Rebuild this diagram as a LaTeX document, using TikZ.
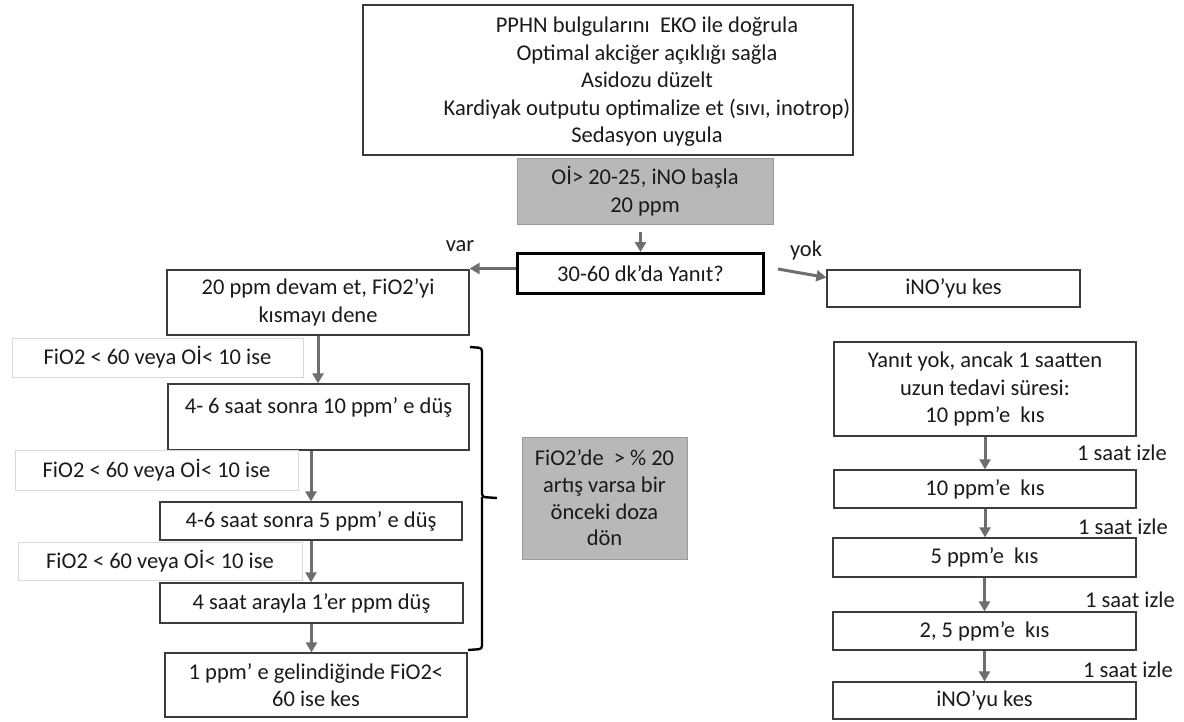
\documentclass[tikz,border=0pt]{standalone}
\usepackage{fontspec}
\setmainfont{Carlito}
\usetikzlibrary{arrows.meta,calc}
\definecolor{boxline}{HTML}{3C3C3C}
\definecolor{arrowgray}{HTML}{6E6E6E}
\definecolor{lblline}{HTML}{DADADA}
\definecolor{fillgray}{HTML}{B8B8B8}
\definecolor{fillgrayline}{HTML}{9A9A9A}
\definecolor{txt}{HTML}{1A1A1A}
\tikzset{
  every node/.style={font=\fontsize{22.5}{27.5}\selectfont, text=txt, inner sep=0pt, align=center},
  box/.style={draw=boxline, line width=1.3pt, fill=white},
  condbox/.style={draw=lblline, line width=0.9pt, fill=white},
  greybox/.style={draw=fillgrayline, line width=1pt, fill=fillgray},
  decision/.style={draw=black, line width=3pt, fill=white},
  arr/.style={draw=arrowgray, line width=3pt, -{Triangle[length=10pt,width=11pt]}},
  brace/.style={draw=black, line width=2.4pt, rounded corners=3pt},
}
\begin{document}
\begin{tikzpicture}[x=1pt,y=-1pt]
\useasboundingbox (0,0) rectangle (1184,721);

% top block of preliminary steps
\node[box, minimum width=490, minimum height=150] (top) at (608,80) {};
\node (toptext) at (647,82) {PPHN bulgularını\ \ EKO ile doğrula\\Optimal akciğer açıklığı sağla\\Asidozu düzelt\\Kardiyak outputu optimalize et (sıvı, inotrop)\\Sedasyon uygula};

% start of iNO
\node[greybox, minimum width=256, minimum height=66] (start) at (645,191) {Oİ> 20-25, iNO başla\\20 ppm};

% decision
\node[decision, minimum width=246, minimum height=40] (dec) at (640.5,273.5) {30-60 dk’da Yanıt?};
\node (var) at (460,246) {var};
\node (yok) at (806,250) {yok};

% left column: response present
\node[box, minimum width=302, minimum height=65] (L1) at (318,302.5) {20 ppm devam et, FiO2’yi\\kısmayı dene};
\node[condbox, minimum width=291, minimum height=39] (c1) at (157.5,357.5) {FiO2 < 60 veya Oİ< 10 ise};
\node[box, minimum width=301, minimum height=66] (L2) at (318.5,417) {4- 6 saat sonra 10 ppm’ e düş\\[-4pt]\mbox{}};
\node[condbox, minimum width=283, minimum height=40] (c2) at (156.5,470) {FiO2 < 60 veya Oİ< 10 ise};
\node[box, minimum width=302, minimum height=38] (L3) at (311,521) {4-6 saat sonra 5 ppm’ e düş};
\node[condbox, minimum width=284, minimum height=38] (c3) at (160,561) {FiO2 < 60 veya Oİ< 10 ise};
\node[box, minimum width=303, minimum height=40] (L4) at (311.5,603) {4 saat arayla 1’er ppm düş};
\node[box, minimum width=302, minimum height=64] (L5) at (316,685) {1 ppm’ e gelindiğinde FiO2<\\60 ise kes};

% note on the weaning steps
\node[greybox, minimum width=165, minimum height=122, font=\fontsize{22.5}{26.7}\selectfont] (note) at (604.5,498) {FiO2’de\ \ > \% 20\\artış varsa bir\\önceki doza\\dön};

% right column: no response
\node[box, minimum width=253, minimum height=37] (stop) at (953.5,288.5) {iNO’yu kes};
\node[box, minimum width=302, minimum height=94] (R1) at (985,389) {Yanıt yok, ancak 1 saatten\\uzun tedavi süresi:\\10 ppm’e\ \ kıs};
\node[box, minimum width=302, minimum height=38] (R2) at (985,489) {10 ppm’e\ \ kıs};
\node[box, minimum width=303, minimum height=39] (R3) at (984.5,557.5) {5 ppm’e\ \ kıs};
\node[box, minimum width=303, minimum height=38] (R4) at (984.5,631) {2, 5 ppm’e\ \ kıs};
\node[box, minimum width=303, minimum height=37] (R5) at (984.5,700.5) {iNO’yu kes};
\node (w1) at (1122,453) {1 saat izle};
\node (w2) at (1123,527) {1 saat izle};
\node (w3) at (1130,600) {1 saat izle};
\node (w4) at (1128,670) {1 saat izle};

% connectors
\draw[arr, line width=2.6pt, shorten <=7pt] (start.south -| dec.north) -- (dec.north);
\draw[arr] ([yshift=5pt]dec.west) -- ([yshift=5pt]dec.west -| L1.east);
\coordinate (yokstart) at (778,269);
\draw[arr] (yokstart) -- ([yshift=11pt]stop.west);

\draw[arr] (L1.south) -- (L1.south |- L2.north);
\draw[arr] (L2.south -| L3.north) -- (L3.north);
\draw[arr] (L3.south) -- (L3.south |- L4.north);
\draw[arr] (L4.south) -- (L4.south |- L5.north);

\draw[arr] (R1.south) -- (R2.north);
\draw[arr] (R2.south) -- (R2.south |- R3.north);
\draw[arr] (R3.south) -- (R4.north);
\draw[arr] (R4.south) -- (R5.north);

% brace grouping the weaning steps
\coordinate (bt) at (470,347);
\coordinate (bm) at (497,498);
\coordinate (bb) at (468,650);
\draw[brace] (bt) -- (482,348) -- (482,497) -- (bm);
\draw[brace] (482,497) -- (482,649) -- (bb);
\end{tikzpicture}
\end{document}
